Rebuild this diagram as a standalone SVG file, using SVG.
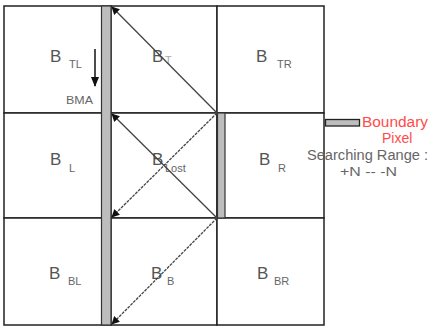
<svg xmlns="http://www.w3.org/2000/svg" width="428" height="327" viewBox="0 0 428 327">
<style>
.cell{fill:#fff;stroke:#222;stroke-width:1.5}
.bar{fill:#bdbdbd;stroke:#333;stroke-width:1.2}
.big{font-family:"Liberation Sans",Arial,sans-serif;font-size:17px;fill:#555}
.sub{font-family:"Liberation Sans",Arial,sans-serif;font-size:11px;fill:#666}
.lbl{font-family:"Liberation Sans",Arial,sans-serif;font-size:13px;fill:#666}
.red{font-family:"Liberation Sans",Arial,sans-serif;font-size:14px;fill:#ff4a4a}
.arr{stroke:#444;stroke-width:1.3;fill:none;marker-end:url(#ah)}
.dash{stroke-dasharray:3 1}
</style>
<defs>
<marker id="ah" viewBox="0 0 10 10" refX="9" refY="5" markerWidth="8" markerHeight="8" markerUnits="userSpaceOnUse" orient="auto">
<path d="M0,0 L10,5 L0,10 z" fill="#111"/>
</marker>
<marker id="ah2" viewBox="0 0 10 10" refX="9" refY="5" markerWidth="10" markerHeight="10" markerUnits="userSpaceOnUse" orient="auto">
<path d="M0,1 L10,5 L0,9 z" fill="#111"/>
</marker>
</defs>
<rect width="428" height="327" fill="#fff"/>
<g id="B_TL"><rect class="cell" x="4" y="6" width="107" height="107"/><text class="big" x="50" y="62">B</text><text class="sub" x="69" y="68">TL</text></g>
<g id="B_T"><rect class="cell" x="111" y="6" width="106" height="107"/><text class="big" x="152" y="62">B</text><text class="sub" x="165" y="64" style="fill:#aaa">T</text></g>
<g id="B_TR"><rect class="cell" x="217" y="6" width="107" height="107"/><text class="big" x="256" y="62">B</text><text class="sub" x="277" y="68">TR</text></g>
<g id="B_L"><rect class="cell" x="4" y="113" width="107" height="105"/><text class="big" x="50" y="165">B</text><text class="sub" x="69" y="172">L</text></g>
<g id="B_Lost"><rect class="cell" x="111" y="113" width="106" height="105"/><text class="big" x="152" y="165">B</text><text class="sub" x="165" y="172">Lost</text></g>
<g id="B_R"><rect class="cell" x="217" y="113" width="107" height="105"/><text class="big" x="259" y="165">B</text><text class="sub" x="278" y="172">R</text></g>
<g id="B_BL"><rect class="cell" x="4" y="218" width="107" height="107"/><text class="big" x="49" y="279">B</text><text class="sub" x="68" y="285">BL</text></g>
<g id="B_B"><rect class="cell" x="111" y="218" width="106" height="107"/><text class="big" x="151" y="279">B</text><text class="sub" x="167" y="285">B</text></g>
<g id="B_BR"><rect class="cell" x="217" y="218" width="107" height="107"/><text class="big" x="257" y="279">B</text><text class="sub" x="274" y="285">BR</text></g>
<g id="bars">
<rect class="bar" x="101.5" y="6" width="9.5" height="319"/>
<rect class="bar" x="217.5" y="113" width="7.5" height="105"/>
</g>
<g id="connectors">
<line class="arr" x1="217" y1="113" x2="112" y2="7"/>
<line class="arr" x1="217" y1="218" x2="112" y2="114"/>
<line class="arr dash" x1="217" y1="113" x2="112" y2="217"/>
<line class="arr dash" x1="217" y1="218" x2="112" y2="324"/>
<line x1="95" y1="49" x2="95" y2="86" stroke="#111" stroke-width="1.5" marker-end="url(#ah2)"/>
</g>
<g id="BMA"><text class="sub" x="66" y="104" textLength="27" lengthAdjust="spacingAndGlyphs">BMA</text></g>
<g id="legend">
<rect x="325.5" y="119.5" width="34" height="6.5" fill="#bdbdbd" stroke="#222" stroke-width="1.3"/>
<text class="red" x="362" y="127" textLength="66" lengthAdjust="spacingAndGlyphs">Boundary</text>
<text class="red" x="382" y="143">Pixel</text>
<text class="lbl" x="307" y="160" textLength="121" lengthAdjust="spacingAndGlyphs" style="font-size:14px">Searching Range :</text>
<text class="lbl" x="340" y="176" textLength="57" lengthAdjust="spacingAndGlyphs">+N -- -N</text>
</g>
</svg>
